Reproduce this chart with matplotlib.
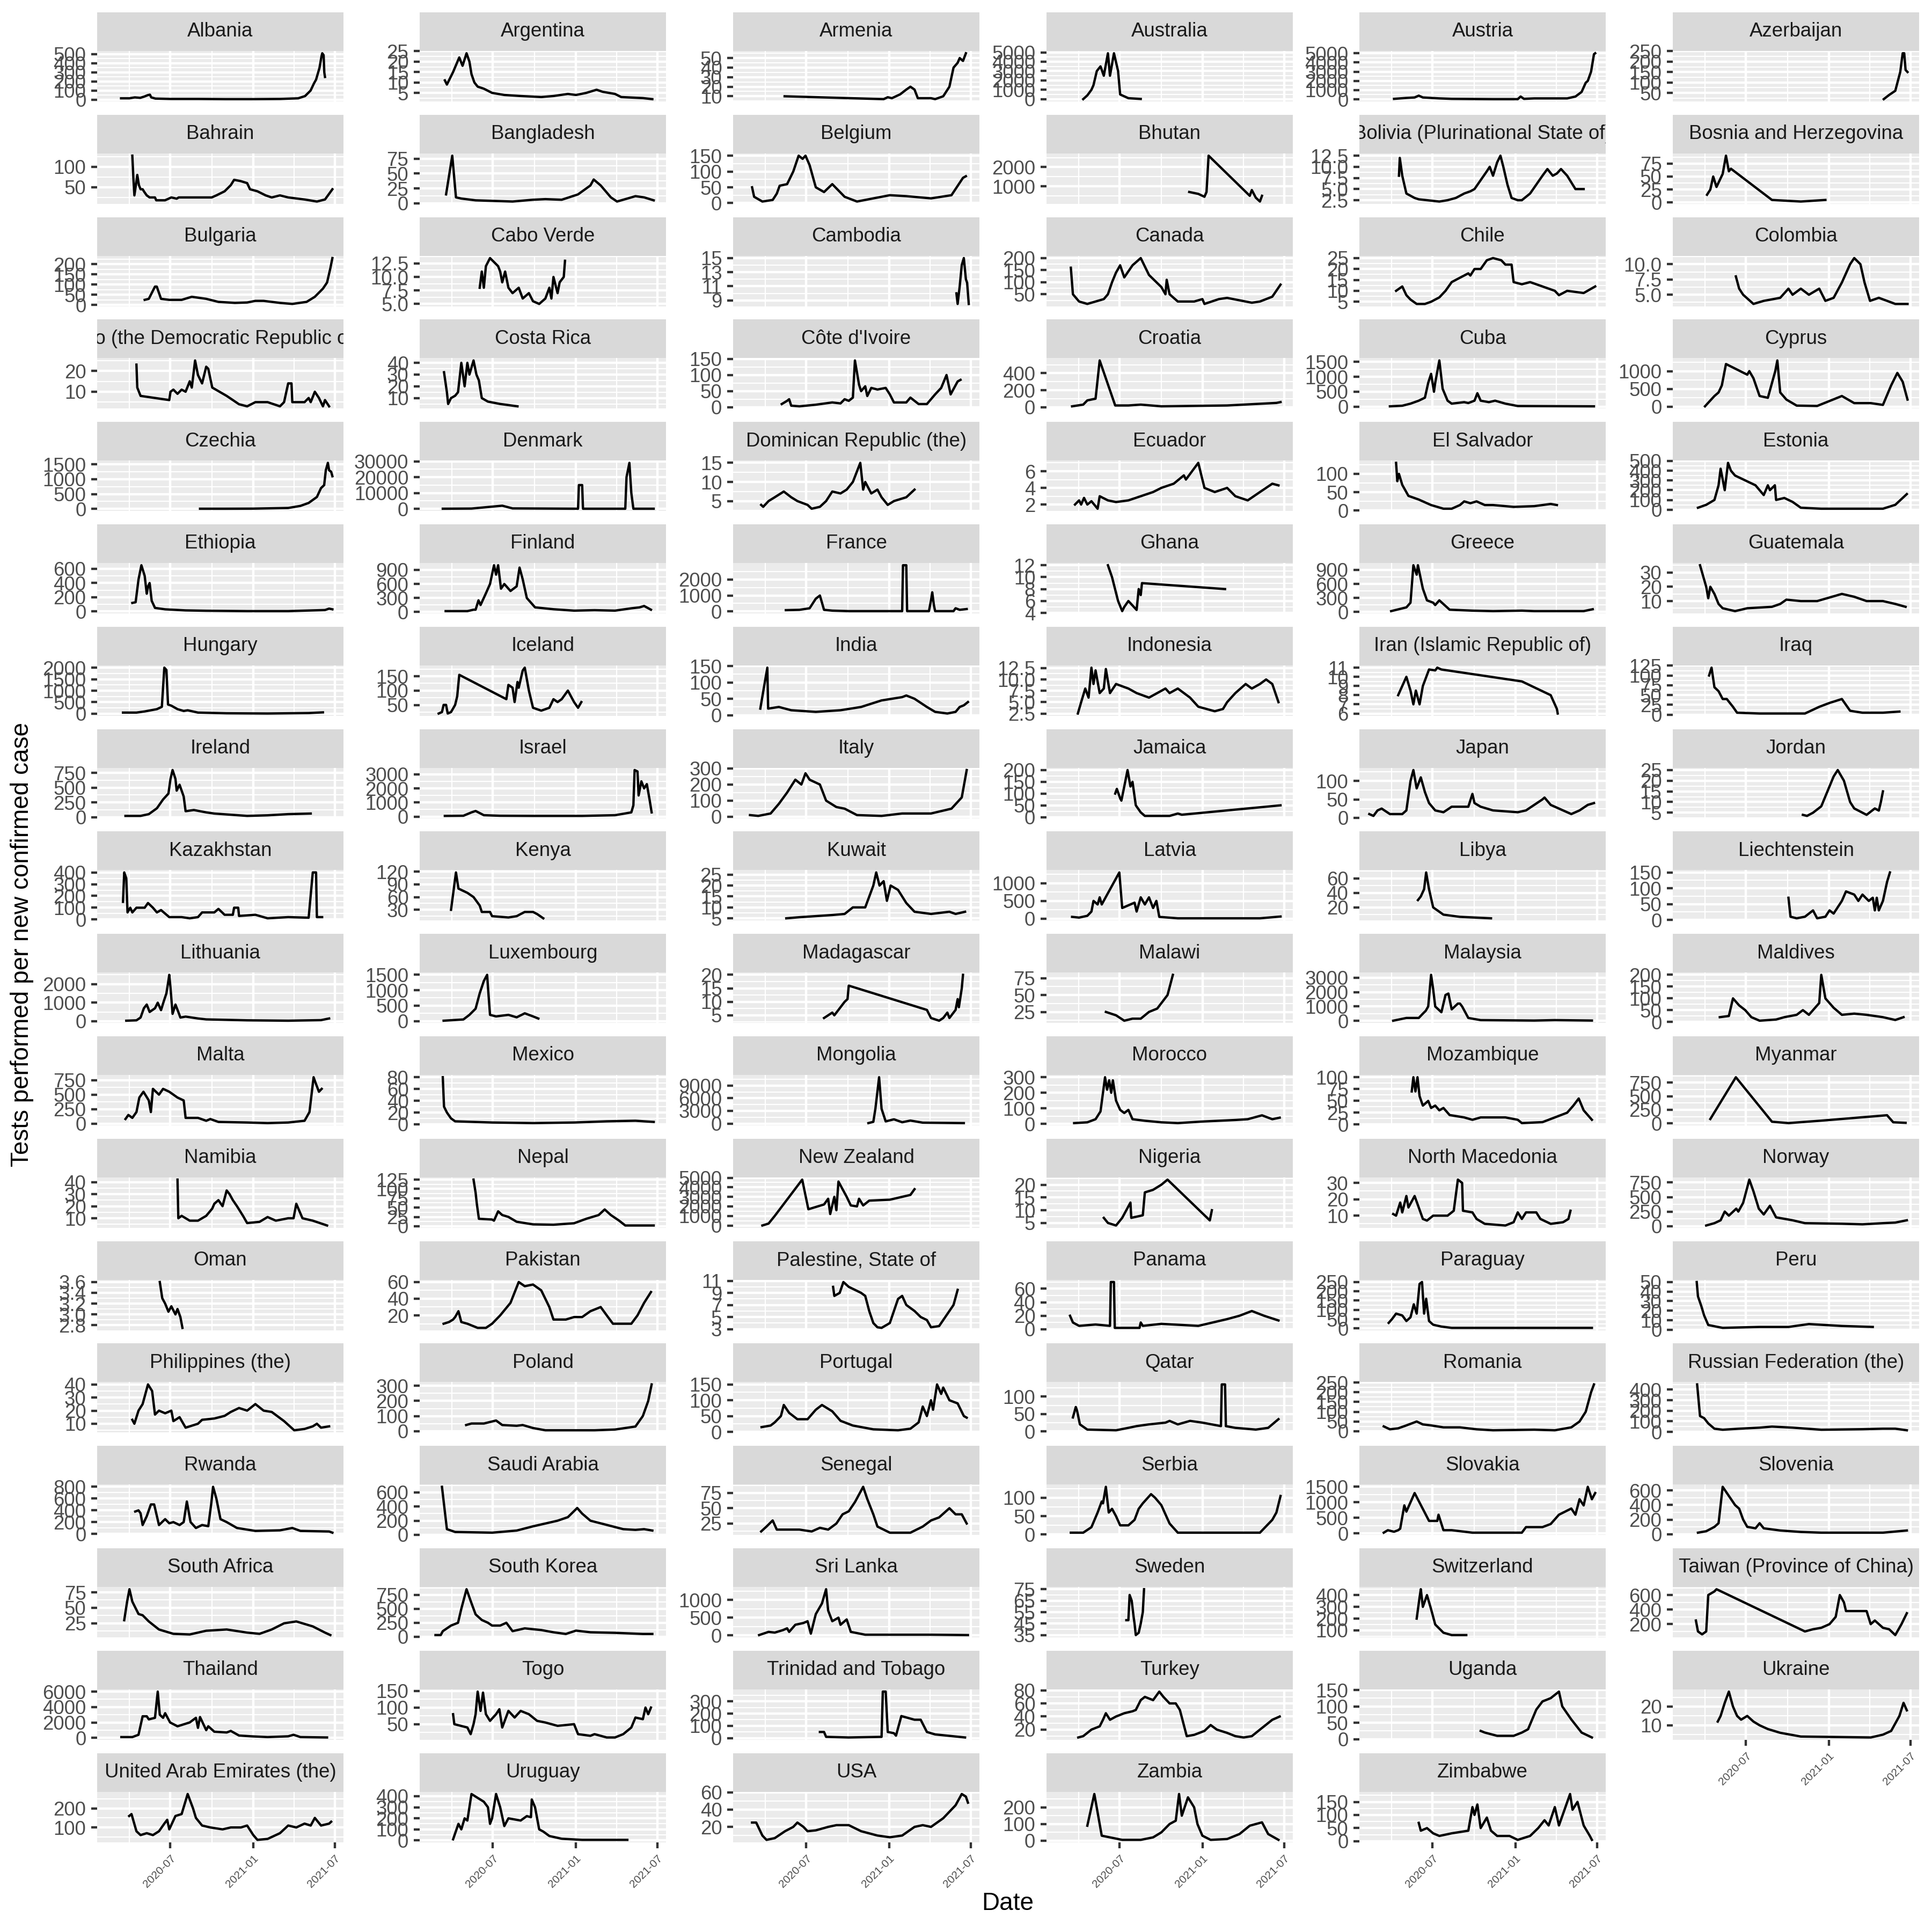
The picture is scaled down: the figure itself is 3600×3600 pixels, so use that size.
import matplotlib
matplotlib.use("Agg")
import matplotlib.pyplot as plt
from datetime import datetime, timedelta
import numpy as np

plt.rcParams['font.family'] = ['Liberation Sans', 'DejaVu Sans']

# ---------------- data: (months since 2020-01-01, tests per new confirmed case) ----------------
albania = [(2.4,15),(3.0,15),(3.4,25),(3.8,20),(4.1,35),(4.35,50),(4.5,55),(4.6,25),(4.9,12),(6,8),(8,8),(10,6),(12,6),(14,8),(15.3,15),(15.8,40),(16.2,100),(16.45,180),(16.6,220),(16.85,350),(17.0,480),(17.05,510),(17.15,490),(17.2,300),(17.25,250)]
argentina = [(2.49,11),(2.64,9),(3.09,15),(3.54,22),(3.78,18),(4.07,24),(4.28,20),(4.43,14),(4.64,10),(4.88,8),(5.33,7),(5.93,5),(6.82,4),(8.01,3.5),(9.51,3),(10.4,3.5),(11.45,4.5),(12.04,4),(12.79,5),(13.54,6.5),(13.99,5.5),(14.88,4.5),(15.33,3),(16.91,2.5),(17.6,2)]
armenia = [(4.41,10),(11.62,7),(11.92,9),(12.22,8),(12.82,12),(13.27,17),(13.57,20),(13.87,17),(14.11,8),(15.07,8),(15.37,7),(15.96,10),(16.41,20),(16.71,40),(17.01,45),(17.16,50),(17.4,47),(17.61,55)]
australia = [(3.33,0),(3.63,400),(3.93,1000),(4.08,1500),(4.32,3000),(4.59,3500),(4.83,2500),(5.13,4900),(5.28,2500),(5.57,4900),(5.87,3000),(6.02,500),(6.62,100),(7.52,20)]
austria = [(3.18,50),(4.08,150),(4.68,200),(4.98,400),(5.28,200),(6.48,100),(7.38,50),(10.39,20),(12.19,20),(12.4,300),(12.64,50),(13.39,100),(15.79,100),(16.39,300),(16.84,800),(17.14,1800),(17.29,2000),(17.53,3000),(17.74,4900),(17.83,5000)]
azerbaijan = [(16.02,20),(16.41,40),(16.86,60),(17.22,150),(17.4,240),(17.51,240),(17.61,160),(17.75,150)]
bahrain = [(3.22,127),(3.3,70),(3.37,30),(3.5,60),(3.58,80),(3.7,55),(3.82,45),(3.97,45),(4.1,38),(4.27,30),(4.48,25),(4.87,25),(4.96,18),(5.6,18),(6.06,25),(6.45,22),(6.6,25),(9.0,25),(9.34,30),(9.94,40),(10.39,55),(10.63,68),(11.1,65),(11.58,60),(11.79,45),(12.33,40),(12.93,30),(13.37,25),(13.97,30),(14.57,25),(15.76,20),(16.66,15),(17.25,20),(17.79,45)]
bangladesh = [(2.58,15),(3.03,80),(3.3,10),(3.69,8),(4.73,5),(7.42,3),(8.91,6),(9.81,7),(11.0,6),(12.19,15),(13.09,30),(13.33,40),(13.84,30),(14.58,10),(15.03,3),(15.78,8),(16.37,12),(17.0,10),(17.7,5)]
belgium = [(2.04,50),(2.19,20),(2.79,5),(3.54,10),(3.84,30),(4.05,55),(4.59,60),(5.04,100),(5.43,150),(5.72,140),(5.93,150),(6.23,120),(6.68,50),(7.28,35),(7.88,60),(8.33,40),(8.78,20),(9.68,5),(10.87,15),(12.07,25),(13.27,22),(15.07,15),(16.56,25),(17.4,80),(17.61,85)]
bhutan = [(11.05,700),(11.71,600),(12.16,450),(12.31,700),(12.46,2600),(15.46,500),(15.61,800),(15.9,400),(16.2,200),(16.35,500)]
bolivia = [(3.54,8),(3.6,12),(3.78,8),(4.08,4),(4.68,3),(4.98,2.7),(5.58,2.5),(6.48,2.2),(7.08,2.5),(7.68,3),(8.29,4),(8.74,4.5),(9.04,5),(9.94,9),(10.15,10),(10.39,8),(10.69,11),(10.93,12.5),(11.14,10),(11.44,6),(11.74,3),(12.19,2.5),(12.49,2.5),(13.09,4),(13.54,6),(13.99,8),(14.35,9.5),(14.74,8),(15.04,8.5),(15.34,9.5),(15.79,8),(16.39,5),(16.99,5)]
bosnia = [(3.15,15),(3.39,25),(3.6,50),(3.84,30),(4.29,55),(4.53,90),(4.74,60),(4.89,65),(7.88,5),(9.98,2),(11.77,5)]
bulgaria = [(4.12,25),(4.42,30),(4.87,90),(5.0,90),(5.31,30),(5.91,25),(6.81,25),(7.55,40),(8.6,30),(9.49,15),(10.69,10),(11.58,12),(12.18,20),(12.78,20),(13.97,10),(14.87,5),(15.91,15),(16.51,40),(17.1,80),(17.4,110),(17.64,180),(17.79,230)]
cabo_verde = [(5.03,8),(5.18,11),(5.33,8),(5.48,12),(5.78,13.5),(6.37,12),(6.52,11),(6.67,9),(6.88,11),(7.12,8),(7.42,7),(7.87,8),(8.16,6),(8.61,7),(8.91,5.5),(9.36,5),(9.81,6),(10.1,8),(10.25,6),(10.4,10),(10.7,7),(10.85,9),(11.15,10),(11.24,13)]
cambodia = [(16.92,10),(17.01,8.5),(17.16,11),(17.31,14),(17.46,15),(17.61,12),(17.7,11.5),(17.82,8.5)]
canada = [(2.43,160),(2.58,50),(3.03,20),(3.63,10),(4.23,20),(4.83,30),(5.13,50),(5.43,100),(5.72,140),(6.02,170),(6.32,120),(6.92,170),(7.52,200),(8.12,130),(9.02,80),(9.32,50),(9.41,110),(9.62,50),(10.22,20),(11.41,20),(12.01,30),(12.16,10),(13.21,30),(13.81,35),(14.71,25),(15.61,15),(16.2,20),(17.1,40),(17.7,90)]
chile = [(3.33,10),(3.78,12),(4.08,8),(4.38,6),(4.83,4),(5.43,4),(5.88,5),(6.48,7),(6.93,10),(7.38,14),(7.98,16),(8.59,18),(8.74,17),(9.04,20),(9.49,20),(9.94,24),(10.39,25),(10.99,24),(11.29,22),(11.74,22),(11.89,14),(12.49,13),(13.09,14),(13.99,12),(14.89,10),(15.19,8),(15.79,10),(16.99,9),(17.83,12)]
colombia = [(5.25,8),(5.49,6),(5.78,5),(6.53,3.5),(7.28,4),(8.48,4.5),(9.08,6),(9.38,5),(9.98,6),(10.57,5),(11.32,6),(11.77,4),(12.37,4.5),(12.97,7),(13.57,10),(13.87,11),(14.32,10),(14.62,7),(15.02,4),(15.66,4.5),(16.86,3.5),(17.75,3.5)]
congo = [(3.52,23),(3.58,12),(3.82,8),(5.91,6),(6.0,10),(6.21,11),(6.51,9),(6.81,11),(7.1,10),(7.4,15),(7.55,12),(7.7,20),(7.79,25),(8.0,18),(8.3,14),(8.6,22),(8.75,21),(9.04,12),(10.09,8),(10.99,4),(11.58,3),(12.18,5),(13.07,5),(13.97,3),(14.27,5),(14.57,14),(14.81,14),(14.87,5),(15.76,5),(16.06,7),(16.21,5),(16.51,10),(16.81,7),(17.1,3),(17.25,6),(17.55,3)]
costa_rica = [(2.43,32),(2.64,15),(2.73,5),(2.94,10),(3.24,12),(3.45,15),(3.69,40),(3.93,20),(4.13,40),(4.28,30),(4.58,42),(4.79,30),(4.97,25),(5.18,10),(5.63,7),(6.52,5),(7.78,3)]
cote_divoire = [(4.2,10),(4.59,20),(4.74,25),(4.89,5),(5.49,3),(6.68,8),(7.88,15),(8.48,12),(8.78,25),(9.08,20),(9.38,30),(9.53,145),(9.83,70),(9.98,50),(10.28,65),(10.43,35),(10.72,60),(11.17,55),(11.77,60),(12.07,40),(12.37,15),(13.27,15),(13.57,30),(14.17,10),(14.77,10),(15.37,40),(15.81,60),(16.2,100),(16.5,40),(17.01,80),(17.22,85)]
croatia = [(2.52,10),(3.33,30),(3.63,80),(4.23,100),(4.53,550),(5.66,20),(6.62,20),(7.52,30),(9.02,10),(13.81,20),(17.4,50),(17.7,60)]
cuba = [(2.88,10),(3.78,30),(4.38,100),(4.98,200),(5.43,300),(5.67,800),(5.88,1100),(6.09,500),(6.18,800),(6.48,1550),(6.72,600),(7.08,200),(7.38,100),(8.29,150),(8.59,120),(9.04,200),(9.25,450),(9.49,200),(10.09,150),(10.54,200),(11.29,100),(12.19,20),(17.74,10)]
cyprus = [(3.0,10),(3.69,300),(3.99,400),(4.23,600),(4.53,1200),(6.08,900),(6.23,1000),(6.53,800),(6.98,300),(7.58,250),(8.12,1000),(8.27,1300),(8.48,400),(8.93,200),(9.68,30),(11.17,20),(12.97,300),(13.87,100),(15.07,100),(15.96,50),(16.56,600),(17.01,950),(17.4,700),(17.75,200)]
czechia = [(8.15,5),(10,5),(12,8),(14.57,30),(15.46,100),(16.06,200),(16.66,400),(16.96,700),(17.19,800),(17.31,1300),(17.46,1550),(17.55,1300),(17.7,1250),(17.79,1100)]
denmark = [(2.34,100),(4.43,200),(6.67,2000),(7.42,300),(12.19,100),(12.25,15000),(12.49,15000),(12.55,100),(15.63,100),(15.72,20000),(15.93,29000),(16.07,10000),(16.22,100),(17.7,100)]
dominican = [(2.7,4),(2.85,3.5),(3.24,5),(3.69,6),(4.35,7.5),(4.89,6),(5.34,5),(6.08,4),(6.38,3),(6.98,3.5),(7.43,5),(7.88,7.5),(8.48,7),(8.93,8),(9.38,10),(9.92,15),(10.13,8),(10.28,10),(10.72,7),(11.17,8),(11.47,6),(11.92,4),(12.37,5),(13.27,6),(13.87,8)]
ecuador = [(2.73,2),(3.03,2.5),(3.18,2),(3.39,2.8),(3.63,2),(3.93,2.4),(4.38,1.5),(4.53,3),(5.13,2.5),(5.72,2.3),(6.62,2.5),(7.52,3),(8.42,3.5),(9.02,4),(9.92,4.5),(10.66,5.5),(10.81,5),(11.71,7),(12.16,4),(12.91,3.5),(13.81,4),(14.41,3),(15.31,2.5),(16.2,3.5),(17.1,4.5),(17.55,4.3)]
el_salvador = [(3.33,130),(3.42,80),(3.54,100),(3.78,70),(4.23,40),(4.98,30),(5.88,15),(6.78,5),(7.38,5),(7.98,15),(8.29,25),(8.74,20),(9.19,25),(9.79,15),(10.39,15),(11.89,10),(13.39,12),(14.59,18),(15.04,15)]
estonia = [(2.49,20),(3.09,50),(3.69,100),(3.99,250),(4.14,420),(4.44,200),(4.68,480),(4.89,400),(5.19,350),(6.68,250),(7.28,150),(7.58,250),(7.73,200),(8.09,250),(8.18,100),(8.78,120),(9.38,80),(9.98,20),(11.47,10),(15.96,10),(16.86,50),(17.7,160)]
ethiopia = [(3.22,120),(3.46,130),(3.67,450),(3.88,650),(4.12,500),(4.27,250),(4.36,350),(4.48,400),(4.63,150),(4.87,50),(5.61,30),(7.1,15),(8.6,10),(11.58,5),(14.57,5),(17.25,20),(17.55,40),(17.79,30)]
finland = [(2.55,20),(4.13,20),(4.58,50),(4.73,50),(4.94,250),(5.09,150),(5.48,400),(5.78,600),(6.07,1000),(6.22,800),(6.37,1000),(6.58,500),(6.82,600),(7.27,450),(7.72,550),(7.93,950),(8.16,700),(8.46,300),(8.76,200),(9.06,100),(10.4,60),(11.9,30),(13.39,40),(14.88,30),(16.07,80),(16.67,100),(17.0,130),(17.5,50)]
france = [(4.5,80),(5.49,100),(6.23,200),(6.68,800),(6.98,1000),(7.28,100),(7.88,50),(9.08,20),(12.97,20),(13.03,2900),(13.27,2900),(13.33,20),(14.92,20),(15.07,700),(15.16,1200),(15.28,400),(15.37,20),(16.71,20),(16.86,200),(17.16,100),(17.67,150)]
ghana = [(5.13,12),(5.43,10),(5.87,6),(6.17,4.3),(6.32,5),(6.62,6),(7.22,4.5),(7.37,8),(7.52,7),(7.61,9),(13.66,8)]
greece = [(2.97,20),(4.08,100),(4.38,200),(4.59,1000),(4.83,800),(4.92,1000),(5.28,500),(5.58,250),(6.03,200),(6.18,150),(6.48,250),(7.23,50),(8.89,30),(10.39,20),(12.49,30),(13.39,20),(16.99,20),(17.65,60)]
guatemala = [(2.64,35),(2.79,30),(3.09,20),(3.24,12),(3.39,20),(3.69,15),(3.99,8),(4.29,5),(5.19,3),(6.08,5),(7.88,6),(8.48,8),(8.93,11),(9.98,10),(11.17,10),(12.97,15),(13.87,13),(14.77,10),(15.96,10),(16.86,8),(17.61,6)]
hungary = [(2.54,50),(3.52,50),(4.12,100),(5.01,200),(5.37,300),(5.55,2000),(5.7,1900),(5.82,400),(6.06,350),(6.51,200),(6.96,120),(7.25,150),(8.0,50),(10.09,20),(13.07,10),(16.06,30),(17.1,60)]
iceland = [(2.04,20),(2.28,25),(2.4,50),(2.58,50),(2.7,20),(2.94,25),(3.24,50),(3.39,80),(3.54,155),(6.97,70),(7.12,120),(7.42,110),(7.57,60),(7.78,130),(7.87,110),(8.16,170),(8.31,180),(8.61,100),(8.91,40),(9.51,30),(10.1,40),(10.4,70),(10.7,60),(11.0,70),(11.45,100),(11.9,60),(12.19,40),(12.43,60)]
india = [(2.64,20),(3.15,145),(3.21,20),(3.99,25),(4.89,15),(6.68,10),(8.48,15),(9.98,25),(11.47,45),(12.97,55),(13.27,60),(13.87,50),(14.77,25),(15.37,10),(16.26,5),(16.86,10),(17.16,25),(17.46,30),(17.76,40)]
indonesia = [(2.94,2.5),(3.18,5),(3.48,8),(3.72,6),(3.93,12.6),(4.08,9),(4.23,12),(4.53,7),(4.83,8),(4.98,12.3),(5.28,7),(5.72,9),(6.62,8),(7.22,7),(8.12,6),(8.72,7),(9.32,8),(9.62,7),(10.22,8),(11.11,6),(11.71,4),(12.91,3),(13.51,3.5),(13.81,5),(14.41,7),(15.16,9),(15.61,8),(16.2,9),(16.65,10),(17.1,9),(17.55,5)]
iran = [(3.48,8),(4.08,10),(4.38,8.5),(4.59,7),(4.77,8.5),(5.04,7),(5.28,9),(5.73,10.8),(6.18,10.7),(6.33,11),(6.63,10.8),(12.49,9.5),(14.59,8),(15.04,6.5),(15.1,6)]
iraq = [(3.3,100),(3.48,120),(3.69,70),(3.99,60),(4.29,40),(4.59,40),(5.04,20),(5.34,5),(6.98,3),(10.28,3),(11.32,20),(12.07,30),(12.97,40),(13.57,10),(14.47,5),(15.96,5),(17.16,8)]
ireland = [(2.72,20),(3.82,20),(4.42,50),(5.01,150),(5.46,300),(5.85,400),(6.0,650),(6.15,800),(6.36,650),(6.45,450),(6.66,550),(6.96,350),(7.1,100),(7.7,120),(8.6,80),(9.19,60),(11.58,20),(13.07,30),(14.57,50),(16.21,60)]
israel = [(2.49,50),(3.84,60),(4.43,300),(4.73,400),(5.33,100),(6.5,60),(8.91,50),(12.49,50),(14.88,100),(15.48,200),(16.07,300),(16.22,800),(16.31,3300),(16.52,3200),(16.6,1500),(16.8,2500),(17.0,2000),(17.2,2300),(17.4,1200),(17.55,300)]
italy = [(1.89,10),(2.49,5),(3.39,20),(3.99,80),(4.59,150),(5.19,230),(5.63,200),(5.93,270),(6.23,230),(6.98,200),(7.43,100),(8.18,60),(8.78,50),(9.68,10),(11.47,5),(12.97,20),(15.07,20),(16.56,50),(17.31,120),(17.67,290)]
jamaica = [(5.66,100),(5.78,120),(6.02,80),(6.11,70),(6.32,130),(6.56,200),(6.77,130),(6.92,150),(7.16,50),(7.52,20),(7.82,5),(9.62,5),(10.22,15),(10.51,10),(17.7,50)]
japan = [(1.38,10),(1.68,5),(1.98,20),(2.28,25),(2.88,10),(3.78,10),(4.08,20),(4.38,100),(4.59,130),(4.83,80),(5.13,110),(5.43,70),(5.73,40),(6.18,20),(6.78,15),(7.38,30),(8.59,30),(8.89,65),(9.04,40),(9.49,30),(10.39,20),(12.19,15),(12.79,20),(13.99,50),(14.14,55),(14.59,35),(15.49,20),(16.09,10),(16.69,20),(17.29,35),(17.74,40)]
jordan = [(10.13,4),(10.43,3.5),(10.87,5),(11.47,8),(11.92,15),(12.37,22),(12.67,25),(13.12,20),(13.57,10),(13.87,7),(14.47,5),(14.77,4),(15.37,7),(15.66,6),(15.81,10),(15.96,15)]
kazakhstan = [(2.54,150),(2.63,400),(2.78,350),(2.87,60),(3.07,100),(3.22,60),(3.52,100),(4.12,100),(4.36,140),(4.72,100),(5.01,60),(5.31,80),(5.91,20),(6.81,20),(7.4,10),(8.0,20),(8.3,60),(9.19,60),(9.49,90),(9.94,40),(10.54,40),(10.63,100),(10.93,100),(10.99,30),(12.18,40),(13.07,10),(14.57,20),(16.06,15),(16.36,400),(16.6,400),(16.66,20),(17.04,20)]
kenya = [(2.94,30),(3.3,118),(3.48,80),(4.13,70),(4.58,60),(5.03,40),(5.18,25),(5.78,25),(5.93,15),(7.12,12),(7.72,15),(8.01,20),(8.31,25),(8.91,25),(9.21,20),(9.66,10)]
kuwait = [(4.53,5),(5.49,5.5),(6.68,6),(7.88,6.5),(8.78,7),(9.38,10),(10.28,10),(10.87,20),(11.08,26),(11.32,20),(11.62,22),(11.86,13),(12.13,20),(12.67,18),(13.27,12),(13.87,8),(15.07,7),(16.41,8),(16.86,7),(17.55,8)]
latvia = [(2.52,50),(3.03,30),(3.63,80),(3.93,200),(4.08,500),(4.38,400),(4.53,600),(4.68,400),(5.96,1300),(6.17,300),(7.07,450),(7.22,200),(7.52,600),(7.82,400),(8.12,600),(8.42,300),(8.66,500),(8.87,50),(10.22,10),(16.2,10),(17.7,60)]
libya = [(4.92,30),(5.13,35),(5.37,45),(5.52,68),(5.73,45),(6.03,20),(6.78,10),(7.98,7),(10.24,5)]
liechtenstein = [(9.08,70),(9.23,10),(9.68,5),(10.28,10),(10.87,30),(11.17,5),(11.77,10),(12.07,30),(12.37,20),(12.67,40),(12.97,60),(13.27,90),(13.87,80),(14.17,60),(14.47,80),(14.93,60),(15.22,70),(15.37,30),(15.51,70),(15.66,30),(15.96,60),(16.26,120),(16.47,150)]
lithuania = [(2.78,30),(3.52,50),(3.82,200),(4.06,700),(4.27,900),(4.48,500),(4.87,700),(5.07,1000),(5.31,600),(5.52,1100),(5.7,1500),(5.85,2200),(5.91,2500),(6.0,1800),(6.15,400),(6.36,900),(6.57,500),(6.72,200),(7.1,250),(8.0,150),(8.6,100),(11.58,50),(14.57,30),(16.96,60),(17.55,150)]
luxembourg = [(2.4,10),(3.84,50),(4.28,200),(4.73,400),(5.03,900),(5.33,1300),(5.57,1500),(5.63,1100),(5.78,200),(6.22,150),(7.12,200),(7.72,120),(8.31,250),(8.91,150),(9.3,80)]
madagascar = [(7.28,4),(7.58,5),(7.88,6),(8.03,5),(8.48,8),(8.78,10),(8.99,11),(9.08,16),(14.77,7),(15.07,4),(15.66,3),(15.96,4),(16.26,6),(16.41,4),(16.86,7),(17.01,11),(17.1,8),(17.31,15),(17.4,20)]
malawi = [(4.98,25),(5.72,20),(6.32,12),(6.92,15),(7.52,15),(7.82,20),(8.12,25),(8.72,30),(9.47,50),(9.86,80)]
malaysia = [(3.12,10),(4.08,200),(4.98,200),(5.28,500),(5.49,700),(5.67,1000),(5.88,3200),(6.03,2200),(6.18,1000),(6.63,600),(6.93,1800),(7.14,1900),(7.38,800),(7.83,1200),(7.98,1200),(8.14,1000),(8.59,200),(9.49,50),(13.39,20),(14.89,50),(17.59,20)]
maldives = [(4.08,20),(4.74,25),(5.04,100),(5.49,70),(5.93,50),(6.38,20),(6.98,5),(8.18,10),(8.78,20),(9.68,30),(10.13,50),(10.57,30),(10.87,50),(11.32,80),(11.47,200),(11.77,100),(12.37,60),(12.97,30),(13.87,35),(14.77,30),(15.96,20),(16.86,8),(17.46,20)]
malta = [(2.72,80),(2.93,150),(3.22,100),(3.52,200),(3.73,450),(4.03,550),(4.42,400),(4.57,200),(4.72,600),(5.16,500),(5.46,600),(5.91,550),(6.51,450),(6.96,400),(7.1,100),(8.0,100),(8.6,50),(8.9,80),(9.49,30),(11.58,20),(13.07,10),(14.57,20),(15.76,50),(16.12,200),(16.42,800),(16.57,700),(16.81,550),(17.01,600)]
mexico = [(2.34,80),(2.43,30),(2.64,20),(2.94,10),(3.24,5),(5.93,3),(8.91,2),(11.9,3),(14.28,5),(16.37,6),(17.0,5),(17.7,4)]
mongolia = [(10.51,100),(10.87,400),(11.02,3500),(11.29,11000),(11.47,3500),(11.77,500),(12.37,1000),(12.97,300),(13.57,700),(14.47,200),(17.46,100)]
morocco = [(2.67,5),(3.63,10),(4.23,30),(4.59,80),(4.77,200),(4.92,300),(5.07,220),(5.22,280),(5.37,200),(5.49,280),(5.72,150),(6.02,90),(6.32,70),(6.62,90),(6.92,30),(7.82,20),(9.02,10),(10.22,5),(12.01,15),(13.21,20),(14.41,25),(15.31,30),(16.35,55),(17.1,30),(17.64,40)]
mozambique = [(4.47,70),(4.59,100),(4.74,70),(4.89,100),(5.04,60),(5.28,40),(5.67,50),(5.88,35),(6.18,40),(6.48,30),(6.78,35),(7.23,20),(8.29,15),(8.89,10),(9.49,15),(10.39,15),(11.29,15),(12.19,10),(12.49,3),(13.99,5),(14.89,15),(15.79,25),(16.24,40),(16.63,55),(16.99,30),(17.59,10)]
myanmar = [(3.39,80),(5.25,850),(7.88,30),(9.08,5),(11.47,50),(16.26,150),(16.71,20),(17.61,10)]
namibia = [(6.51,42),(6.57,10),(6.81,12),(7.4,8),(8.0,8),(8.6,12),(9.04,18),(9.19,22),(9.49,25),(9.79,20),(10.09,33),(10.3,30),(10.54,25),(10.84,20),(11.28,12),(11.58,6),(12.48,7),(13.07,11),(13.67,8),(14.57,10),(14.96,10),(15.16,22),(15.61,10),(16.36,8),(17.4,4)]
nepal = [(4.58,125),(4.73,90),(4.82,60),(4.97,20),(5.93,18),(6.07,15),(6.37,40),(6.67,30),(7.12,25),(7.72,12),(8.91,5),(10.4,4),(11.9,8),(12.79,20),(13.69,30),(14.13,45),(14.58,30),(15.18,15),(15.63,2),(17.7,2)]
new_zealand = [(2.79,0),(3.24,200),(3.69,1000),(5.69,4800),(6.14,1700),(7.28,2200),(7.58,2800),(7.73,1200),(8.03,3000),(8.18,1600),(8.33,4600),(8.93,3000),(9.23,2100),(9.68,2000),(9.83,2800),(10.13,2100),(10.57,2600),(12.07,2700),(13.57,3200),(13.87,3800)]
nigeria = [(4.83,7),(5.13,5),(5.72,4),(6.17,7),(6.77,13),(6.83,7),(7.67,8),(7.82,17),(8.42,18),(9.02,20),(9.47,22),(12.55,6),(12.7,10)]
north_macedonia = [(3.12,11),(3.33,10),(3.63,18),(3.78,12),(4.08,22),(4.23,15),(4.68,22),(4.98,15),(5.28,8),(5.58,7),(6.03,10),(7.08,10),(7.53,13),(7.83,32),(8.14,30),(8.2,13),(8.89,12),(9.19,8),(9.79,5),(11.29,4),(11.89,6),(12.19,12),(12.49,8),(12.79,12),(13.54,12),(13.84,8),(14.59,5),(15.49,6),(15.88,8),(16.03,13)]
norway = [(3.09,10),(3.69,50),(4.14,100),(4.44,250),(4.74,180),(5.28,300),(5.43,250),(5.78,400),(6.23,800),(6.53,600),(6.92,300),(7.28,200),(7.73,350),(8.18,150),(9.38,100),(10.28,50),(12.97,40),(14.47,30),(15.96,50),(16.86,60),(17.7,100)]
oman = [(5.22,3.6),(5.4,3.3),(5.61,3.2),(5.85,3.05),(6.06,3.15),(6.36,3.0),(6.51,3.1),(6.72,2.95),(6.87,2.75)]
pakistan = [(2.4,10),(2.79,12),(3.09,15),(3.24,18),(3.48,25),(3.69,12),(4.13,10),(4.88,5),(5.48,5),(5.93,10),(6.52,20),(7.27,35),(7.87,60),(8.31,55),(8.91,57),(9.51,50),(10.1,30),(10.4,15),(11.3,15),(11.9,18),(12.49,18),(13.09,25),(13.84,30),(14.28,20),(14.73,10),(16.07,10),(16.52,20),(17.0,35),(17.5,48)]
palestine = [(7.94,10),(8.03,8.5),(8.42,9),(8.69,10.8),(9.08,10),(9.53,9.5),(9.98,9),(10.28,8.5),(10.57,6),(10.87,4),(11.17,3.3),(11.47,3.2),(12.07,4),(12.37,6),(12.67,8),(12.97,8.5),(13.27,7),(13.87,6),(14.32,5),(14.77,4.5),(15.07,3.3),(15.66,3.5),(16.11,5),(16.71,7),(17.01,9.5)]
panama = [(2.37,20),(2.58,10),(3.03,5),(4.23,7),(5.28,5),(5.34,70),(5.57,70),(5.63,2),(7.43,2),(7.52,10),(7.67,5),(9.02,8),(11.71,5),(13.81,15),(14.71,20),(15.61,27),(16.5,20),(17.55,13)]
paraguay = [(2.79,30),(3.03,50),(3.33,80),(3.78,70),(4.08,40),(4.38,60),(4.62,130),(4.83,80),(5.04,240),(5.22,250),(5.37,80),(5.52,160),(5.73,40),(6.03,20),(6.63,10),(7.38,3),(17.59,3)]
peru = [(2.4,50),(2.49,35),(2.73,25),(2.94,15),(3.24,5),(4.29,2),(6.98,3),(9.08,3),(10.57,6),(12.97,4),(15.22,3)]
philippines = [(3.22,13),(3.37,10),(3.67,20),(3.97,25),(4.36,40),(4.66,35),(4.87,17),(5.16,20),(5.61,18),(6.06,20),(6.21,12),(6.66,15),(7.1,7),(8.0,10),(8.3,13),(9.19,14),(9.94,16),(10.39,19),(10.99,22),(11.58,20),(12.18,25),(12.78,20),(13.37,19),(14.27,12),(15.01,5),(15.76,6),(16.36,8),(16.66,10),(16.96,7),(17.55,8)]
poland = [(4.04,40),(4.43,50),(5.33,50),(6.22,70),(6.67,40),(7.72,35),(8.16,40),(8.91,20),(9.81,5),(13.39,5),(14.88,10),(16.37,30),(16.91,100),(17.3,200),(17.55,310)]
portugal = [(2.73,15),(3.39,20),(3.69,30),(4.14,50),(4.35,85),(4.74,60),(5.34,40),(6.08,40),(6.68,70),(7.13,85),(7.88,65),(8.48,35),(9.38,20),(10.87,8),(12.67,5),(13.57,10),(14.17,30),(14.47,80),(14.77,50),(15.07,100),(15.22,70),(15.51,150),(15.81,120),(15.96,140),(16.41,100),(17.01,90),(17.46,50),(17.67,45)]
qatar = [(2.58,40),(2.79,70),(2.88,60),(3.09,20),(3.63,5),(5.72,3),(6.62,10),(7.22,15),(8.12,20),(9.32,25),(9.62,30),(10.22,20),(11.11,30),(12.01,25),(13.36,15),(13.42,135),(13.66,135),(13.72,15),(14.41,10),(15.9,5),(16.8,10),(17.55,35)]
romania = [(2.43,25),(2.58,20),(2.88,10),(3.48,15),(4.08,30),(4.83,50),(5.28,35),(5.88,30),(6.78,20),(7.98,20),(9.19,10),(10.39,5),(13.39,8),(14.89,5),(16.09,20),(16.69,50),(17.14,100),(17.53,200),(17.74,240)]
russia = [(2.43,450),(2.64,150),(2.94,130),(3.24,80),(3.69,30),(4.29,20),(5.49,30),(6.98,40),(7.88,50),(9.38,40),(11.47,20),(14.47,25),(15.96,30),(16.86,30),(17.7,15)]
rwanda = [(3.43,380),(3.67,400),(3.82,350),(3.97,150),(4.27,300),(4.57,500),(4.81,500),(5.01,300),(5.16,150),(5.61,250),(5.91,180),(6.21,200),(6.66,150),(6.96,200),(7.19,550),(7.46,200),(7.85,100),(8.3,150),(8.75,130),(8.96,500),(9.1,800),(9.34,600),(9.64,250),(10.09,200),(10.84,100),(12.18,50),(13.97,60),(14.87,100),(15.46,50),(17.55,40),(17.79,20)]
saudi_arabia = [(2.28,680),(2.64,80),(3.24,40),(5.93,30),(7.72,60),(8.91,120),(9.81,160),(10.7,200),(11.45,250),(12.13,380),(12.49,300),(13.09,200),(14.28,140),(15.48,80),(16.37,70),(17.0,80),(17.6,60)]
senegal = [(2.7,12),(3.09,20),(3.54,30),(3.84,15),(5.49,15),(6.38,12),(6.98,18),(7.58,15),(8.18,25),(8.63,40),(9.08,45),(9.53,60),(10.13,85),(10.43,65),(10.87,40),(11.17,20),(12.07,10),(13.57,10),(14.47,20),(15.07,30),(15.66,35),(16.41,50),(16.86,40),(17.31,40),(17.67,25)]
serbia = [(2.43,5),(3.33,5),(3.93,20),(4.38,60),(4.68,90),(4.77,85),(4.98,130),(5.19,60),(5.43,70),(5.72,50),(6.02,25),(6.62,25),(7.07,40),(7.37,70),(7.67,85),(8.27,110),(8.57,100),(9.02,80),(9.62,30),(10.22,5),(16.2,5),(17.1,40),(17.4,60),(17.7,105)]
slovakia = [(2.43,20),(2.73,100),(3.18,50),(3.48,100),(3.63,150),(3.93,900),(4.08,700),(4.68,1300),(5.73,400),(6.33,400),(6.42,600),(6.78,100),(7.38,100),(8.89,20),(12.49,20),(12.79,200),(13.99,200),(14.59,300),(15.19,600),(16.09,800),(16.39,600),(16.69,1100),(16.99,900),(17.29,1500),(17.59,1100),(17.83,1300)]
slovenia = [(2.49,20),(3.09,40),(3.69,100),(3.99,150),(4.29,650),(5.19,400),(5.49,350),(5.78,200),(6.08,100),(6.68,80),(6.98,150),(7.28,80),(8.48,50),(9.98,30),(11.47,20),(15.96,20),(17.7,50)]
south_africa = [(2.63,30),(2.84,60),(3.01,80),(3.22,60),(3.67,40),(3.97,38),(4.42,28),(5.16,15),(6.21,8),(7.4,7),(8.6,13),(10.09,15),(11.58,10),(12.48,8),(13.37,15),(14.27,25),(15.16,28),(16.36,20),(17.25,10),(17.64,6)]
south_korea = [(1.81,30),(2.19,30),(2.34,100),(2.94,200),(3.45,250),(3.69,500),(4.07,850),(4.43,600),(4.73,400),(5.18,300),(5.63,250),(5.93,200),(6.52,200),(6.97,250),(7.42,100),(8.31,150),(9.51,120),(10.4,80),(11.3,50),(12.04,110),(13.09,80),(14.88,70),(16.91,50),(17.6,50)]
sri_lanka = [(2.55,10),(3.24,100),(3.69,80),(4.29,150),(4.59,200),(4.74,100),(5.19,300),(5.78,350),(6.08,400),(6.32,50),(6.68,600),(7.13,900),(7.43,1300),(7.58,700),(7.88,400),(8.33,500),(8.48,300),(8.93,450),(9.23,100),(10.28,20),(15.07,20),(17.76,10)]
sweden = [(6.47,48),(6.62,48),(6.71,70),(6.86,65),(7.01,50),(7.07,45),(7.16,35),(7.37,37),(7.52,45),(7.67,55),(7.76,75)]
switzerland = [(4.83,200),(5.04,380),(5.13,450),(5.28,300),(5.58,400),(5.88,280),(6.18,150),(6.78,80),(7.38,60),(8.44,60)]
taiwan = [(2.34,250),(2.49,100),(2.79,60),(3.09,100),(3.24,600),(3.69,650),(3.84,680),(10.28,100),(10.87,130),(11.47,150),(12.07,200),(12.52,300),(12.82,600),(13.12,500),(13.27,380),(14.77,380),(15.07,200),(15.37,250),(15.96,150),(16.41,130),(16.86,50),(17.31,200),(17.7,350)]
thailand = [(2.42,100),(3.22,100),(3.67,400),(3.97,2800),(4.27,2800),(4.42,2400),(4.87,2600),(5.07,6000),(5.22,3000),(5.46,2600),(5.61,3200),(5.97,2000),(6.51,1500),(7.4,2000),(7.85,2600),(8.0,1300),(8.15,2700),(8.6,1000),(8.75,1500),(9.19,800),(10.09,700),(10.39,900),(10.99,300),(11.88,200),(13.07,100),(14.57,200),(14.96,400),(15.46,100),(17.4,50)]
togo = [(3.09,80),(3.18,50),(4.13,40),(4.37,20),(4.58,50),(4.73,80),(4.88,148),(5.09,90),(5.27,145),(5.48,80),(5.78,60),(6.22,80),(6.46,95),(6.67,40),(7.12,90),(7.57,70),(8.01,90),(8.61,80),(9.21,60),(9.81,55),(10.7,45),(11.9,50),(12.19,20),(13.09,15),(13.39,20),(14.28,10),(14.88,10),(15.48,20),(16.07,40),(16.37,70),(16.91,65),(17.1,100),(17.3,80),(17.5,100)]
trinidad = [(6.98,50),(7.28,50),(7.43,10),(9.08,5),(11.47,10),(11.56,380),(11.77,380),(11.92,50),(12.37,40),(12.52,20),(12.91,180),(13.87,150),(14.32,150),(14.77,50),(15.37,30),(17.55,5)]
turkey = [(2.97,8),(3.33,10),(3.93,20),(4.53,25),(4.77,35),(4.98,45),(5.28,35),(5.72,40),(6.32,45),(6.92,48),(7.16,50),(7.52,65),(7.82,70),(8.42,65),(8.87,78),(9.17,70),(9.62,60),(10.07,60),(10.37,50),(10.87,10),(11.41,12),(12.16,18),(12.61,27),(13.06,20),(13.81,15),(14.41,10),(15.01,8),(15.61,10),(16.2,20),(17.1,35),(17.64,40)]
uganda = [(9.49,25),(9.79,20),(10.69,10),(11.89,10),(12.49,20),(12.94,30),(13.24,60),(13.54,90),(13.99,115),(14.59,125),(15.19,145),(15.43,100),(16.09,60),(16.84,20),(17.59,5)]
ukraine = [(3.93,12),(4.14,15),(4.44,22),(4.74,28),(5.04,20),(5.34,15),(5.63,13),(6.08,15),(6.53,12),(6.98,10),(7.58,8),(8.48,6),(9.98,4),(15.07,3.5),(15.96,5),(16.56,7),(17.16,15),(17.46,22),(17.7,18)]
uae = [(2.99,160),(3.16,170),(3.28,140),(3.52,80),(3.82,60),(4.27,70),(4.72,60),(5.16,80),(5.55,120),(5.76,140),(5.91,90),(6.36,160),(6.81,170),(7.25,275),(7.64,200),(7.85,150),(8.3,110),(8.9,100),(9.79,90),(10.39,100),(11.13,100),(11.58,110),(12.03,60),(12.33,35),(13.07,40),(13.97,70),(14.57,110),(15.16,100),(15.76,120),(16.21,110),(16.51,150),(16.96,110),(17.55,120),(17.7,130)]
uruguay = [(3.09,10),(3.48,150),(3.69,100),(3.93,200),(4.13,180),(4.43,420),(5.33,350),(5.63,300),(5.78,150),(5.93,200),(6.22,420),(6.52,300),(6.82,130),(7.12,200),(8.01,180),(8.46,220),(8.76,210),(8.82,370),(9.06,300),(9.36,100),(9.66,80),(10.1,40),(11.0,15),(12.49,5),(15.78,5)]
usa = [(2.04,25),(2.34,25),(2.49,20),(2.79,10),(3.09,5),(3.69,7),(4.44,15),(5.04,20),(5.34,25),(5.78,20),(6.08,15),(6.68,16),(7.58,20),(8.18,22),(9.08,22),(9.98,15),(11.17,10),(12.07,8),(12.97,10),(13.87,20),(14.47,22),(15.07,20),(15.96,30),(16.86,45),(17.31,58),(17.61,55),(17.76,48)]
zambia = [(3.63,90),(4.14,280),(4.68,30),(6.17,5),(7.52,5),(8.42,20),(9.02,50),(9.62,100),(10.07,120),(10.31,280),(10.51,150),(10.96,260),(11.41,200),(11.65,100),(12.01,30),(12.61,5),(13.81,10),(14.71,40),(15.46,90),(16.35,110),(16.8,40),(17.55,5)]
zimbabwe = [(4.98,70),(5.13,40),(5.58,50),(6.03,30),(6.48,20),(7.38,30),(8.59,40),(8.89,130),(9.04,100),(9.25,140),(9.49,50),(9.94,90),(10.24,40),(10.69,20),(11.59,20),(12.19,5),(13.09,20),(13.68,50),(14.14,80),(14.44,60),(14.89,130),(15.19,60),(16.0,180),(16.18,120),(16.54,150),(16.99,60),(17.44,20),(17.59,5)]

# facet label, series, y-axis tick labels (in facet order)
facets = [
    ("Albania", albania, [0,100,200,300,400,500]),
    ("Argentina", argentina, [5,10,15,20,25]),
    ("Armenia", armenia, [10,20,30,40,50]),
    ("Australia", australia, [0,1000,2000,3000,4000,5000]),
    ("Austria", austria, [0,1000,2000,3000,4000,5000]),
    ("Azerbaijan", azerbaijan, [50,100,150,200,250]),
    ("Bahrain", bahrain, [50,100]),
    ("Bangladesh", bangladesh, [0,25,50,75]),
    ("Belgium", belgium, [0,50,100,150]),
    ("Bhutan", bhutan, [1000,2000]),
    ("Bolivia (Plurinational State of)", bolivia, [2.5,5.0,7.5,10.0,12.5]),
    ("Bosnia and Herzegovina", bosnia, [0,25,50,75]),
    ("Bulgaria", bulgaria, [0,50,100,150,200]),
    ("Cabo Verde", cabo_verde, [5.0,7.5,10.0,12.5]),
    ("Cambodia", cambodia, [9,11,13,15]),
    ("Canada", canada, [0,50,100,150,200]),
    ("Chile", chile, [5,10,15,20,25]),
    ("Colombia", colombia, [5.0,7.5,10.0]),
    ("Congo (the Democratic Republic of the)", congo, [10,20]),
    ("Costa Rica", costa_rica, [0,10,20,30,40]),
    ("Côte d'Ivoire", cote_divoire, [0,50,100,150]),
    ("Croatia", croatia, [0,200,400]),
    ("Cuba", cuba, [0,500,1000,1500]),
    ("Cyprus", cyprus, [0,500,1000]),
    ("Czechia", czechia, [0,500,1000,1500]),
    ("Denmark", denmark, [0,10000,20000,30000]),
    ("Dominican Republic (the)", dominican, [5,10,15]),
    ("Ecuador", ecuador, [2,4,6]),
    ("El Salvador", el_salvador, [0,50,100]),
    ("Estonia", estonia, [0,100,200,300,400,500]),
    ("Ethiopia", ethiopia, [0,200,400,600]),
    ("Finland", finland, [0,300,600,900]),
    ("France", france, [0,1000,2000]),
    ("Ghana", ghana, [4,6,8,10,12]),
    ("Greece", greece, [0,300,600,900]),
    ("Guatemala", guatemala, [10,20,30]),
    ("Hungary", hungary, [0,500,1000,1500,2000]),
    ("Iceland", iceland, [50,100,150]),
    ("India", india, [0,50,100,150]),
    ("Indonesia", indonesia, [2.5,5.0,7.5,10.0,12.5]),
    ("Iran (Islamic Republic of)", iran, [6,7,8,9,10,11]),
    ("Iraq", iraq, [0,25,50,75,100,125]),
    ("Ireland", ireland, [0,250,500,750]),
    ("Israel", israel, [0,1000,2000,3000]),
    ("Italy", italy, [0,100,200,300]),
    ("Jamaica", jamaica, [0,50,100,150,200]),
    ("Japan", japan, [0,50,100]),
    ("Jordan", jordan, [5,10,15,20,25]),
    ("Kazakhstan", kazakhstan, [0,100,200,300,400]),
    ("Kenya", kenya, [30,60,90,120]),
    ("Kuwait", kuwait, [5,10,15,20,25]),
    ("Latvia", latvia, [0,500,1000]),
    ("Libya", libya, [20,40,60]),
    ("Liechtenstein", liechtenstein, [0,50,100,150]),
    ("Lithuania", lithuania, [0,1000,2000]),
    ("Luxembourg", luxembourg, [0,500,1000,1500]),
    ("Madagascar", madagascar, [5,10,15,20]),
    ("Malawi", malawi, [25,50,75]),
    ("Malaysia", malaysia, [0,1000,2000,3000]),
    ("Maldives", maldives, [0,50,100,150,200]),
    ("Malta", malta, [0,250,500,750]),
    ("Mexico", mexico, [0,20,40,60,80]),
    ("Mongolia", mongolia, [0,3000,6000,9000]),
    ("Morocco", morocco, [0,100,200,300]),
    ("Mozambique", mozambique, [0,25,50,75,100]),
    ("Myanmar", myanmar, [0,250,500,750]),
    ("Namibia", namibia, [10,20,30,40]),
    ("Nepal", nepal, [0,25,50,75,100,125]),
    ("New Zealand", new_zealand, [0,1000,2000,3000,4000,5000]),
    ("Nigeria", nigeria, [5,10,15,20]),
    ("North Macedonia", north_macedonia, [10,20,30]),
    ("Norway", norway, [0,250,500,750]),
    ("Oman", oman, [2.8,3.0,3.2,3.4,3.6]),
    ("Pakistan", pakistan, [20,40,60]),
    ("Palestine, State of", palestine, [3,5,7,9,11]),
    ("Panama", panama, [0,20,40,60]),
    ("Paraguay", paraguay, [0,50,100,150,200,250]),
    ("Peru", peru, [0,10,20,30,40,50]),
    ("Philippines (the)", philippines, [10,20,30,40]),
    ("Poland", poland, [0,100,200,300]),
    ("Portugal", portugal, [0,50,100,150]),
    ("Qatar", qatar, [0,50,100]),
    ("Romania", romania, [0,50,100,150,200,250]),
    ("Russian Federation (the)", russia, [0,100,200,300,400]),
    ("Rwanda", rwanda, [0,200,400,600,800]),
    ("Saudi Arabia", saudi_arabia, [0,200,400,600]),
    ("Senegal", senegal, [25,50,75]),
    ("Serbia", serbia, [0,50,100]),
    ("Slovakia", slovakia, [0,500,1000,1500]),
    ("Slovenia", slovenia, [0,200,400,600]),
    ("South Africa", south_africa, [0,25,50,75]),
    ("South Korea", south_korea, [0,250,500,750]),
    ("Sri Lanka", sri_lanka, [0,500,1000]),
    ("Sweden", sweden, [35,45,55,65,75]),
    ("Switzerland", switzerland, [100,200,300,400]),
    ("Taiwan (Province of China)", taiwan, [200,400,600]),
    ("Thailand", thailand, [0,2000,4000,6000]),
    ("Togo", togo, [50,100,150]),
    ("Trinidad and Tobago", trinidad, [0,100,200,300]),
    ("Turkey", turkey, [20,40,60,80]),
    ("Uganda", uganda, [0,50,100,150]),
    ("Ukraine", ukraine, [10,20]),
    ("United Arab Emirates (the)", uae, [100,200]),
    ("Uruguay", uruguay, [0,100,200,300,400]),
    ("USA", usa, [20,40,60]),
    ("Zambia", zambia, [0,100,200]),
    ("Zimbabwe", zimbabwe, [0,50,100,150]),
]

x_major_labels = ["2020-07", "2021-01", "2021-07"]

# ---------------- layout ----------------
W = H = 3600
fig = plt.figure(figsize=(12, 12), dpi=300)
NCOL = 6
col_left = [181, 782, 1366, 1950, 2533, 3117]
panel_w = 459
row_top0 = 23
row_pitch = 190.8
strip_h = 72
panel_h = 94

BASE = datetime(2020, 1, 1)
def to_date(m):
    return BASE + timedelta(days=m * 30.4375)

xlim = (datetime(2020, 1, 21), datetime(2021, 7, 20))
x_major = [datetime(2020, 7, 1), datetime(2021, 1, 1), datetime(2021, 7, 1)]
x_minor = [datetime(2020, 4, 1), datetime(2020, 10, 1), datetime(2021, 4, 1)]

LW = 1.05  # points
n = len(facets)

def fmt(ticks):
    if any(abs(t - round(t)) > 1e-9 for t in ticks):
        return [f"{t:.1f}" for t in ticks]
    return [str(int(round(t))) for t in ticks]

for i, (name, series, ticks) in enumerate(facets):
    r, c = divmod(i, NCOL)
    top = row_top0 + r * row_pitch
    left = col_left[c]
    # strip
    sax = fig.add_axes([left / W, 1 - (top + strip_h) / H, panel_w / W, strip_h / H])
    sax.set_xlim(0, 1); sax.set_ylim(0, 1)
    sax.set_facecolor("#D9D9D9")
    for s in sax.spines.values():
        s.set_visible(False)
    sax.set_xticks([]); sax.set_yticks([])
    sax.text(0.5, 0.5, name, ha="center", va="center", fontsize=8.8,
             color="#1A1A1A", clip_on=True, transform=sax.transAxes)
    # panel
    ax = fig.add_axes([left / W, 1 - (top + strip_h + panel_h) / H, panel_w / W, panel_h / H])
    ax.set_facecolor("#EBEBEB")
    for s in ax.spines.values():
        s.set_visible(False)
    xs = [to_date(m) for m, v in series]
    ys = [v for m, v in series]
    lo, hi = min(ys), max(ys)
    pad = 0.05 * (hi - lo) if hi > lo else 0.05 * abs(hi) + 0.5
    ylo, yhi = lo - pad, hi + pad
    ax.set_xlim(*xlim)
    ax.set_ylim(ylo, yhi)
    # grid
    step = ticks[1] - ticks[0] if len(ticks) > 1 else 1.0
    ext = np.arange(ticks[0] - 3 * step, ticks[-1] + 3.5 * step, step)
    minors = [t + step / 2 for t in ext if ylo <= t + step / 2 <= yhi]
    majors = [t for t in ticks if ylo <= t <= yhi]
    for y in minors:
        ax.axhline(y, color="white", lw=LW / 2, zorder=1)
    for d in x_minor:
        ax.axvline(d, color="white", lw=LW / 2, zorder=1)
    for y in majors:
        ax.axhline(y, color="white", lw=LW, zorder=1.5)
    for d in x_major:
        ax.axvline(d, color="white", lw=LW, zorder=1.5)
    ax.plot(xs, ys, color="black", lw=LW, zorder=3, solid_joinstyle="round")
    ax.set_yticks(majors)
    ax.set_yticklabels(fmt(majors))
    ax.tick_params(axis="y", length=2.75, width=LW, color="#333333",
                   labelsize=8.8, labelcolor="#4D4D4D", pad=2.2)
    bottom_of_col = (i + NCOL >= n)
    if bottom_of_col:
        ax.set_xticks(x_major)
        ax.set_xticklabels(x_major_labels, rotation=45, ha="right", va="top",
                           rotation_mode="anchor")
        ax.tick_params(axis="x", length=2.75, width=LW, color="#333333",
                       labelsize=5, labelcolor="#4D4D4D", pad=2.2)
    else:
        ax.set_xticks([])

fig.text(1878 / W, 1 - 3547 / H, "Date", ha="center", va="center", fontsize=11, color="black")
fig.text(41 / W, 1 - 1760 / H, "Tests performed per new confirmed case", ha="center", va="center",
         rotation=90, fontsize=11, color="black")

fig.savefig("out.png", dpi=300, facecolor="white")
